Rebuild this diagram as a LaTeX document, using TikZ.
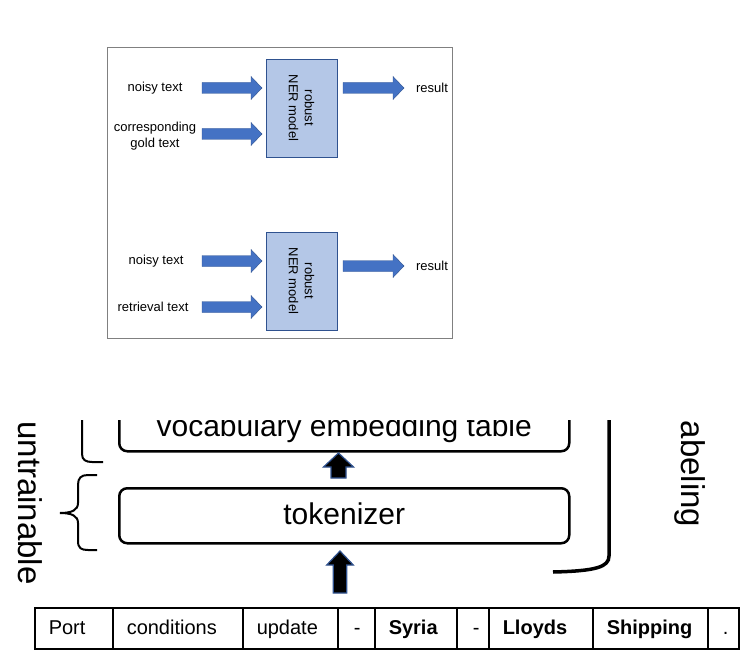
\documentclass[tikz,border=0pt]{standalone}
\usepackage{fontspec}
\setmainfont{Liberation Sans}
\definecolor{nerfill}{HTML}{B4C7E7}
\definecolor{nerdraw}{HTML}{2F528F}
\definecolor{arrfill}{HTML}{4472C4}
\definecolor{framegray}{HTML}{808080}
\tikzset{
  smalltext/.style={font=\fontsize{13}{16}\selectfont, inner sep=0pt, align=center},
  nerbox/.style={draw=nerdraw, fill=nerfill, line width=0.8pt, rotate=-90,
    minimum width=98pt, minimum height=71pt, inner sep=0pt, align=center,
    font=\fontsize{13}{16}\selectfont},
  barrow/.style={draw=nerdraw, fill=arrfill, line width=0.4pt},
  karrow/.style={draw=nerdraw, fill=black, line width=1.2pt},
  layerbox/.style={draw, line width=2.5pt, rounded corners=8pt, minimum width=450pt,
    anchor=north west, inner sep=0pt, font=\fontsize{30}{36}\selectfont,
    text height=22pt, text depth=5pt},
  bigrot/.style={rotate=-90, inner sep=0pt, font=\fontsize{33}{38}\selectfont},
  bracestroke/.style={line width=2pt},
  cell/.style={draw, line width=1.5pt, minimum height=41pt, inner xsep=14pt, inner ysep=0pt,
    anchor=north west, font=\fontsize{20}{24}\selectfont, text height=15pt, text depth=2.5pt},
}
\newcommand\harrow[3]{\draw[barrow] (#1,#3-5.5) -- (#2-11,#3-5.5) -- (#2-11,#3-11.5) -- (#2,#3) -- (#2-11,#3+11.5) -- (#2-11,#3+5.5) -- (#1,#3+5.5) -- cycle;}
\begin{document}
\begin{tikzpicture}[x=1pt,y=-1pt]
\useasboundingbox (0,0) rectangle (747,655);

% ---------- upper panel ----------
\node[draw=framegray, line width=1.2pt, minimum width=345pt, minimum height=291pt,
  anchor=north west, inner sep=0pt] (frame) at (107,47) {};

\node[nerbox] (ner1) at (301.5,108) {robust\\NER model};
\node[nerbox] (ner2) at (301.5,281) {robust\\NER model};

\node[smalltext] (noisy1) at (155,88) {noisy text};
\node[smalltext] (gold) at (155,136) {corresponding\\gold text};
\node[smalltext] (res1) at (432,88) {result};
\node[smalltext] (noisy2) at (156,261) {noisy text};
\node[smalltext] (retr) at (153,307) {retrieval text};
\node[smalltext] (res2) at (432,266) {result};

\harrow{202}{262}{88}
\harrow{202}{262}{134}
\harrow{343}{404}{88}
\harrow{202}{262}{261}
\harrow{202}{262}{307}
\harrow{343}{404}{266}

% ---------- lower panel (cropped at top) ----------
\begin{scope}
\clip (0,420) rectangle (747,655);
\node[layerbox, minimum height=47pt] (vocab) at (118,403) {vocabulary embedding table};
\node[layerbox, minimum height=55pt] (tok) at (118,487) {tokenizer};

\draw[karrow] (331,478) -- (331,467) -- (323.5,467) -- (338.5,453) -- (353.5,467) -- (346,467) -- (346,478) -- cycle;
\draw[karrow] (333.3,593) -- (333.3,565) -- (326.7,565) -- (340,551) -- (353.3,565) -- (346.7,565) -- (346.7,593) -- cycle;

\draw[bracestroke] (82,410) -- (82,454) .. controls (82,460) and (86,462) .. (92,462) -- (103,462);
\draw[bracestroke] (97,475) -- (88,475) .. controls (81,475) and (78,478) .. (78,485) -- (78,503)
  .. controls (78,510) and (72,513) .. (60,513) .. controls (72,513) and (78,516) .. (78,523)
  -- (78,541) .. controls (78,548) and (81,550) .. (88,550) -- (97,550);
\draw[line width=3.5pt] (609,410) -- (609,556) .. controls (609,567) and (596,571) .. (553,572);

\node[bigrot] (untr) at (30,503) {untrainable};
\node[bigrot] (lab) at (690,474) {abeling};
\end{scope}

% ---------- token row ----------
\node[cell, minimum width=78pt]  (t1) at (34,607)  {\makebox[50pt][l]{Port}};
\node[cell, minimum width=130pt] (t2) at (112,607) {\makebox[102pt][l]{conditions}};
\node[cell, minimum width=95pt]  (t3) at (242,607) {\makebox[67pt][l]{update}};
\node[cell, minimum width=37pt]  (t4) at (337,607) {\makebox[9pt][l]{\hspace{2pt}-}};
\node[cell, minimum width=82pt]  (t5) at (374,607) {\makebox[54pt][l]{\bfseries Syria}};
\node[cell, minimum width=32pt]  (t6) at (456,607) {\makebox[4pt][l]{\hspace{2pt}-}};
\node[cell, minimum width=104pt] (t7) at (488,607) {\makebox[76pt][l]{\bfseries Lloyds}};
\node[cell, minimum width=115pt] (t8) at (592,607) {\makebox[87pt][l]{\bfseries Shipping}};
\node[cell, minimum width=31pt]  (t9) at (707,607) {\makebox[3pt][l]{\hspace{1pt}.}};
\end{tikzpicture}
\end{document}
